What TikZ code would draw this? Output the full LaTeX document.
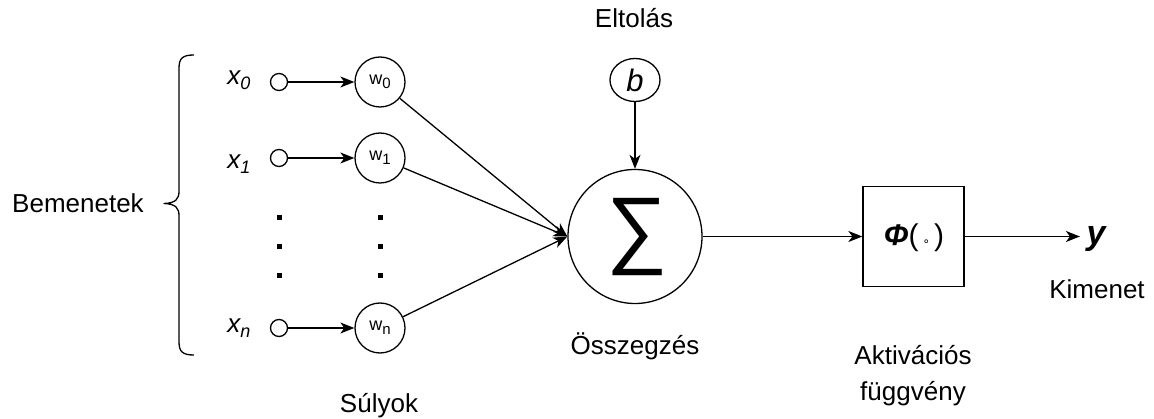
\documentclass[tikz,border=0pt]{standalone}
\usepackage{fontspec}
\setmainfont{Liberation Sans}
\newfontfamily\dejavu{DejaVu Sans}
\usetikzlibrary{arrows.meta,shapes.geometric}
\begin{document}
\begin{tikzpicture}[x=1pt,y=-1pt, line width=1.3pt,
  txt/.style={font=\fontsize{26}{31}\selectfont, inner sep=0pt},
  incirc/.style={circle, draw, minimum size=17pt, inner sep=0pt},
  wcirc/.style={circle, draw, minimum size=50pt, inner sep=0pt, font=\fontsize{18}{18}\selectfont},
  arr/.style={-{Stealth[length=14pt,width=11pt,inset=4pt]}},
  sqdot/.style={fill, minimum size=5pt, inner sep=0pt}]
\useasboundingbox (0,0) rectangle (1154,419);

% texts
\node[txt, anchor=base] (bem) at (78,213) {Bemenetek};
\node[txt, anchor=base] (elt) at (634,28) {Eltolás};
\node[txt, anchor=base] (ossz) at (635,355) {Összegzés};
\node[txt, anchor=base] (suly) at (379,413) {Súlyok};
\node[txt, anchor=base] (kim) at (1097,299) {Kimenet};
\node[txt, align=center, font=\fontsize{26}{36}\selectfont] (akt) at (913,376) {Aktivációs\\függvény};

% input labels
\node[txt, anchor=base] (l0) at (239,85) {\itshape x\raisebox{-5pt}{\fontsize{18}{18}\selectfont 0}};
\node[txt, anchor=base] (l1) at (239,169) {\itshape x\raisebox{-5pt}{\fontsize{18}{18}\selectfont 1}};
\node[txt, anchor=base] (ln) at (239,333) {\itshape x\raisebox{-5pt}{\fontsize{18}{18}\selectfont n}};

% input circles
\node[incirc] (i0) at (279,82) {};
\node[incirc] (i1) at (279,158) {};
\node[incirc] (in) at (279,328) {};

% weights
\node[wcirc] (w0) at (380,82) {w\raisebox{-4pt}{\fontsize{15}{15}\selectfont 0}};
\node[wcirc] (w1) at (380,158) {w\raisebox{-4pt}{\fontsize{15}{15}\selectfont 1}};
\node[wcirc] (wn) at (380,328) {w\raisebox{-4pt}{\fontsize{15}{15}\selectfont n}};

% dots
\foreach \yy [count=\k] in {218,247,276}{
  \node[sqdot] (da\k) at (279,\yy) {};
  \node[sqdot] (db\k) at (380,\yy) {};
}

% bias
\node[ellipse, draw, minimum width=50pt, minimum height=43pt, inner sep=0pt,
      font=\fontsize{31}{31}\selectfont\itshape] (b) at (635,80) {b};

% summation
\node[circle, draw, minimum size=134pt, inner sep=0pt] (sum) at (635,236.5) {};
\node[font=\fontsize{86}{86}\selectfont, inner sep=0pt] (sig) at (637,237) {∑};

% activation
\node[draw, minimum width=101pt, minimum height=100pt, inner sep=0pt] (act) at (913.5,236.5) {};
\node[inner sep=0pt, font=\fontsize{30}{30}\selectfont] (phi) at (914,238)
  {{\bfseries\itshape Φ}(\hspace{4pt}\raisebox{0pt}{\dejavu\fontsize{12}{12}\selectfont ∘}\hspace{4pt})};

% output
\node[font=\fontsize{34}{34}\selectfont\bfseries\itshape, anchor=base, inner xsep=6pt, inner ysep=0pt] (y) at (1096,245) {y};

% connectors
\draw[arr] (i0) -- (w0);
\draw[arr] (i1) -- (w1);
\draw[arr] (in) -- (wn);
\draw[arr] (w0) -- (sum.west);
\draw[arr] (w1) -- (sum.west);
\draw[arr] (wn) -- (sum.west);
\draw[arr] (b) -- (sum);
\draw[arr] (sum) -- (act);
\draw[arr] (act.east) -- (act.east -| y.west);

% brace
\draw[line join=round] (194,55) .. controls (183,55) and (179,58) .. (179,68)
  -- (179,191) .. controls (179,199) and (176,203) .. (164,203.5)
  .. controls (176,204) and (179,208) .. (179,216)
  -- (179,342) .. controls (179,352) and (183,355) .. (194,355);
\end{tikzpicture}
\end{document}
